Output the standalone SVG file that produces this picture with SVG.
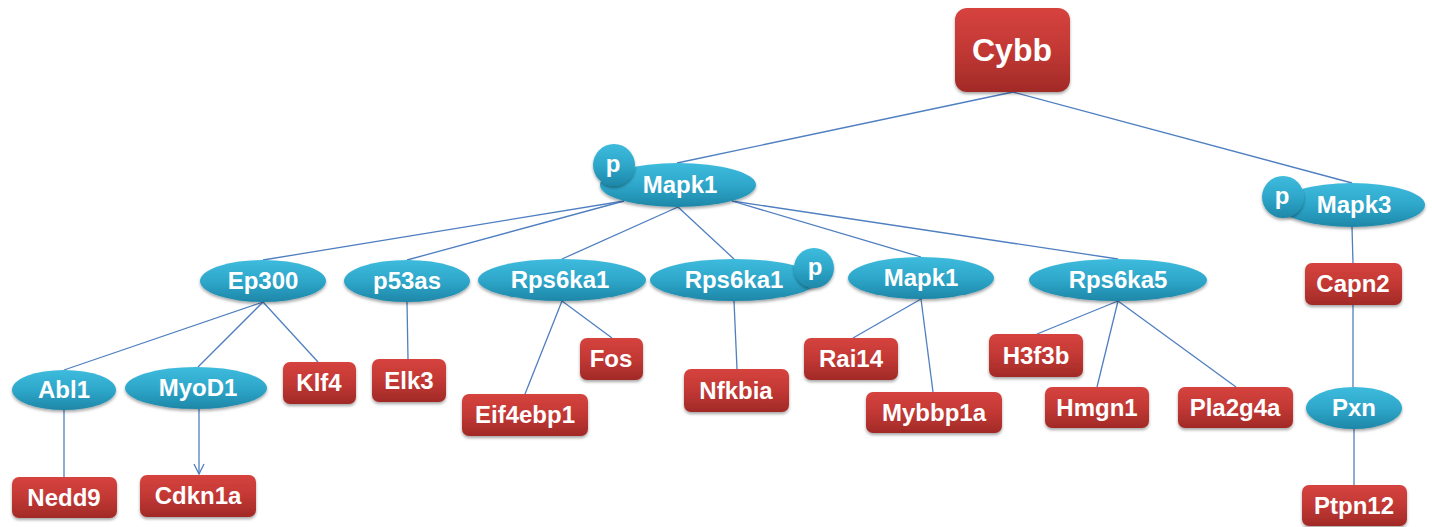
<svg xmlns="http://www.w3.org/2000/svg" width="1432" height="527" viewBox="0 0 1432 527">
<defs>
<linearGradient id="gBlue" x1="0" y1="0" x2="0" y2="1">
<stop offset="0" stop-color="#3dbbdd"/>
<stop offset="0.5" stop-color="#2ea7ca"/>
<stop offset="1" stop-color="#1e87a8"/>
</linearGradient>
<linearGradient id="gRed" x1="0" y1="0" x2="0" y2="1">
<stop offset="0" stop-color="#d6433e"/>
<stop offset="0.5" stop-color="#c23834"/>
<stop offset="1" stop-color="#a12a27"/>
</linearGradient>
<filter id="sh" x="-20%" y="-20%" width="140%" height="150%">
<feDropShadow dx="0" dy="2" stdDeviation="1.8" flood-color="#000" flood-opacity="0.35"/>
</filter>
<marker id="arr" markerWidth="14" markerHeight="14" refX="11" refY="6" orient="auto" markerUnits="userSpaceOnUse">
<path d="M1,1 L11,6 L1,11" fill="none" stroke="#4f7fc0" stroke-width="1.3"/>
</marker>
</defs>
<style>
.e{fill:url(#gBlue);filter:url(#sh)}
.r{fill:url(#gRed);filter:url(#sh)}
.t{font-family:"Liberation Sans",Arial,sans-serif;font-weight:bold;font-size:24px;fill:#fff;text-anchor:middle}
.big{font-size:32px}
.c line{stroke:#4f7fc0;stroke-width:1.3}
</style>
<g class="c" id="connectors">
<line x1="1013" y1="92" x2="677" y2="163"/>
<line x1="1013" y1="92" x2="1352" y2="183"/>
<line x1="624" y1="201" x2="263" y2="260"/>
<line x1="624" y1="201" x2="407" y2="260"/>
<line x1="678" y1="207" x2="562" y2="259"/>
<line x1="678" y1="207" x2="734" y2="259"/>
<line x1="732" y1="201" x2="921" y2="257"/>
<line x1="732" y1="201" x2="1118" y2="259"/>
<line x1="1352" y1="227" x2="1353" y2="263"/>
<line x1="263" y1="302" x2="64" y2="370"/>
<line x1="263" y1="302" x2="198" y2="367"/>
<line x1="263" y1="302" x2="318" y2="362"/>
<line x1="407" y1="302" x2="408" y2="359"/>
<line x1="562" y1="301" x2="612" y2="338"/>
<line x1="562" y1="301" x2="525" y2="394"/>
<line x1="734" y1="301" x2="737" y2="369"/>
<line x1="921" y1="299" x2="853" y2="338"/>
<line x1="921" y1="299" x2="933" y2="392"/>
<line x1="1118" y1="301" x2="1037" y2="334"/>
<line x1="1118" y1="301" x2="1097" y2="387"/>
<line x1="1118" y1="301" x2="1236" y2="387"/>
<line x1="64" y1="410" x2="64" y2="477"/>
<line x1="199" y1="409" x2="199" y2="474" marker-end="url(#arr)"/>
<line x1="1353" y1="305" x2="1353" y2="387"/>
<line x1="1354" y1="429" x2="1354" y2="485"/>
</g>
<g id="Cybb"><rect class="r" x="955" y="8" width="115" height="84" rx="12"/><text class="t big" x="1012" y="61">Cybb</text></g>
<g id="Mapk1_top"><ellipse class="e" cx="678" cy="185" rx="78" ry="22"/><circle class="e" cx="614" cy="165" r="21"/><text class="t" x="613" y="172">p</text><text class="t" x="680" y="193">Mapk1</text></g>
<g id="Mapk3"><ellipse class="e" cx="1352" cy="205" rx="73" ry="22"/><circle class="e" cx="1283" cy="197" r="21"/><text class="t" x="1282" y="204">p</text><text class="t" x="1354" y="213">Mapk3</text></g>
<g id="Ep300"><ellipse class="e" cx="263" cy="281" rx="63" ry="21"/><text class="t" x="263" y="289">Ep300</text></g>
<g id="p53as"><ellipse class="e" cx="407" cy="281" rx="63" ry="21"/><text class="t" x="407" y="289">p53as</text></g>
<g id="Rps6ka1_a"><ellipse class="e" cx="562" cy="280" rx="84" ry="21"/><text class="t" x="560" y="288">Rps6ka1</text></g>
<g id="Rps6ka1_b"><ellipse class="e" cx="734" cy="280" rx="84" ry="21"/><circle class="e" cx="814" cy="268" r="20"/><text class="t" x="734" y="288">Rps6ka1</text><text class="t" x="815" y="275">p</text></g>
<g id="Mapk1_b"><ellipse class="e" cx="921" cy="278" rx="73" ry="21"/><text class="t" x="921" y="286">Mapk1</text></g>
<g id="Rps6ka5"><ellipse class="e" cx="1118" cy="280" rx="89" ry="21"/><text class="t" x="1118" y="288">Rps6ka5</text></g>
<g id="Abl1"><ellipse class="e" cx="64" cy="390" rx="52" ry="20"/><text class="t" x="64" y="398">Abl1</text></g>
<g id="MyoD1"><ellipse class="e" cx="196" cy="388" rx="71" ry="21"/><text class="t" x="198" y="396">MyoD1</text></g>
<g id="Klf4"><rect class="r" x="283" y="362" width="73" height="42" rx="7"/><text class="t" x="319" y="391">Klf4</text></g>
<g id="Elk3"><rect class="r" x="372" y="359" width="74" height="43" rx="7"/><text class="t" x="409" y="389">Elk3</text></g>
<g id="Fos"><rect class="r" x="580" y="338" width="63" height="42" rx="7"/><text class="t" x="611" y="367">Fos</text></g>
<g id="Eif4ebp1"><rect class="r" x="462" y="394" width="126" height="42" rx="7"/><text class="t" x="525" y="423">Eif4ebp1</text></g>
<g id="Nfkbia"><rect class="r" x="684" y="369" width="105" height="43" rx="7"/><text class="t" x="736" y="399">Nfkbia</text></g>
<g id="Rai14"><rect class="r" x="804" y="338" width="94" height="42" rx="7"/><text class="t" x="851" y="367">Rai14</text></g>
<g id="Mybbp1a"><rect class="r" x="866" y="392" width="136" height="41" rx="7"/><text class="t" x="934" y="421">Mybbp1a</text></g>
<g id="H3f3b"><rect class="r" x="989" y="334" width="94" height="43" rx="7"/><text class="t" x="1036" y="364">H3f3b</text></g>
<g id="Hmgn1"><rect class="r" x="1045" y="387" width="104" height="41" rx="7"/><text class="t" x="1097" y="416">Hmgn1</text></g>
<g id="Pla2g4a"><rect class="r" x="1178" y="387" width="115" height="41" rx="7"/><text class="t" x="1235" y="416">Pla2g4a</text></g>
<g id="Capn2"><rect class="r" x="1305" y="263" width="97" height="42" rx="7"/><text class="t" x="1353" y="292">Capn2</text></g>
<g id="Pxn"><ellipse class="e" cx="1354" cy="408" rx="48" ry="21"/><text class="t" x="1354" y="416">Pxn</text></g>
<g id="Nedd9"><rect class="r" x="12" y="477" width="105" height="41" rx="7"/><text class="t" x="64" y="506">Nedd9</text></g>
<g id="Cdkn1a"><rect class="r" x="140" y="475" width="116" height="42" rx="7"/><text class="t" x="198" y="504">Cdkn1a</text></g>
<g id="Ptpn12"><rect class="r" x="1302" y="485" width="105" height="41" rx="7"/><text class="t" x="1354" y="514">Ptpn12</text></g>
</svg>
